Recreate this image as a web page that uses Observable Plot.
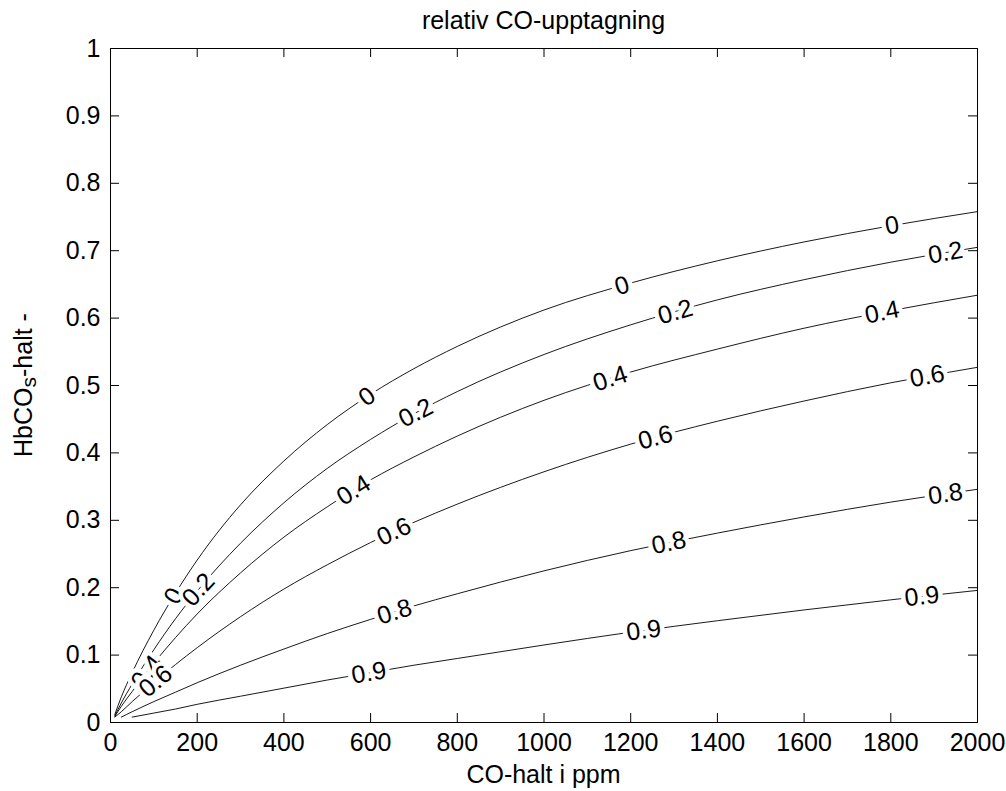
<!DOCTYPE html>
<html><head><meta charset="utf-8">
<script src="https://cdn.jsdelivr.net/npm/d3@7"></script>
<script src="https://cdn.jsdelivr.net/npm/@observablehq/plot@0.6"></script>
<style>body{margin:0;background:#fff} svg{display:block}</style>
</head><body><div id="chart"></div>
<script>
// CO concentration (ppm) sample positions
const coPpm = [10, 25, 50, 100, 150, 200, 300, 400, 500, 600, 700, 800, 1000, 1200, 1400, 1600, 1800, 2000];
// HbCO_s fraction along each contour level
const level0  = [0.012, 0.038, 0.074, 0.137, 0.192, 0.241, 0.323, 0.388, 0.442, 0.487, 0.525, 0.558, 0.612, 0.652, 0.685, 0.713, 0.737, 0.758];
const level02 = [0.010, 0.029, 0.057, 0.108, 0.154, 0.195, 0.266, 0.326, 0.377, 0.420, 0.458, 0.491, 0.546, 0.590, 0.627, 0.657, 0.683, 0.705];
const level04 = [0.009, 0.024, 0.046, 0.088, 0.126, 0.161, 0.222, 0.275, 0.320, 0.360, 0.394, 0.425, 0.478, 0.520, 0.554, 0.585, 0.611, 0.634];
const level06 = [0.008, 0.016, 0.031, 0.059, 0.086, 0.111, 0.157, 0.198, 0.234, 0.267, 0.297, 0.324, 0.372, 0.413, 0.447, 0.477, 0.504, 0.527];
const level08 = [null, 0.008, 0.016, 0.031, 0.045, 0.059, 0.085, 0.109, 0.132, 0.153, 0.173, 0.191, 0.225, 0.255, 0.281, 0.305, 0.327, 0.346];
const level09 = [null, null, 0.008, 0.014, 0.020, 0.027, 0.039, 0.051, 0.063, 0.074, 0.085, 0.095, 0.115, 0.134, 0.151, 0.167, 0.182, 0.196];
const levelNames = ["0", "0.2", "0.4", "0.6", "0.8", "0.9"];
// x positions (ppm) of the inline contour labels
const labels0  = [146, 592, 1180, 1803];
const labels02 = [203, 704, 1303, 1926];
const labels04 = [84, 561, 1153, 1780];
const labels06 = [104, 654, 1257, 1884];
const labels08 = [655, 1288, 1926];
const labels09 = [596, 1230, 1872];
// axis ticks
const xTicks = [0, 200, 400, 600, 800, 1000, 1200, 1400, 1600, 1800, 2000];
const yTicks = [0, 0.1, 0.2, 0.3, 0.4, 0.5, 0.6, 0.7, 0.8, 0.9, 1];

const titleText = "relativ CO-upptagning";
const xLabelText = "CO-halt i ppm";

const W = 1006, H = 791;
const mL = 110, mR = 29, mT = 48, mB = 69;
const iw = W - mL - mR, ih = H - mT - mB;
const FONT = "'Liberation Sans', Arial, Helvetica, sans-serif";

const series = [level0, level02, level04, level06, level08, level09];
const labelSets = [labels0, labels02, labels04, labels06, labels08, labels09];

const lineData = [];
series.forEach((ys, k) => ys.forEach((v, i) => {
  if (v != null) lineData.push({level: levelNames[k], x: coPpm[i], y: v});
}));

function segAt(ys, x) {
  for (let i = 0; i < coPpm.length - 1; i++) {
    if (ys[i] != null && ys[i + 1] != null && x >= coPpm[i] && x <= coPpm[i + 1]) return i;
  }
  return null;
}
const pxPerX = iw / 2000, pxPerY = ih / 1;
const labelData = [];
labelSets.forEach((xs, k) => xs.forEach(x => {
  const ys = series[k];
  const i = segAt(ys, x);
  if (i == null) return;
  const t = (x - coPpm[i]) / (coPpm[i + 1] - coPpm[i]);
  const y = ys[i] + t * (ys[i + 1] - ys[i]);
  const slope = (ys[i + 1] - ys[i]) / (coPpm[i + 1] - coPpm[i]);
  const angle = -Math.atan(slope * pxPerY / pxPerX) * 180 / Math.PI;
  labelData.push({x, y, angle, text: levelNames[k]});
}));

const plot = Plot.plot({
  width: W, height: H,
  marginLeft: mL, marginRight: mR, marginTop: mT, marginBottom: mB,
  style: {fontFamily: FONT, background: "white", color: "black"},
  x: {domain: [0, 2000]},
  y: {domain: [0, 1]},
  marks: [
    Plot.line(lineData, {x: "x", y: "y", z: "level", curve: "monotone-x", stroke: "black", strokeWidth: 0.9}),
    Plot.text(labelData, {x: "x", y: "y", text: "text", rotate: "angle", fontSize: 25, fill: "black",
      stroke: "white", strokeWidth: 9, strokeLinejoin: "round", paintOrder: "stroke", fontFamily: FONT}),
    Plot.tickX(xTicks, {x: d => d, insetTop: ih - 9, stroke: "black", strokeWidth: 1}),
    Plot.tickX(xTicks, {x: d => d, insetBottom: ih - 9, stroke: "black", strokeWidth: 1}),
    Plot.tickY(yTicks, {y: d => d, insetRight: iw - 9, stroke: "black", strokeWidth: 1}),
    Plot.tickY(yTicks, {y: d => d, insetLeft: iw - 9, stroke: "black", strokeWidth: 1}),
    Plot.axisX(xTicks, {anchor: "bottom", tickSize: 0, tickPadding: 11, fontSize: 25, tickFormat: d => String(d), label: null, fill: "black"}),
    Plot.axisY(yTicks, {anchor: "left", tickSize: 0, tickPadding: 10, fontSize: 25, tickFormat: d => String(d), label: null, fill: "black"}),
    Plot.frame({stroke: "black", strokeWidth: 1})
  ]
});

const svg = d3.select(plot);
svg.append("text").attr("x", mL + iw / 2).attr("y", 29).attr("text-anchor", "middle")
  .style("font-family", FONT).style("font-size", "25px").attr("fill", "black").text(titleText);
svg.append("text").attr("x", mL + iw / 2).attr("y", 783).attr("text-anchor", "middle")
  .style("font-family", FONT).style("font-size", "25px").attr("fill", "black").text(xLabelText);
const yl = svg.append("text").attr("transform", `translate(32,${mT + ih / 2}) rotate(-90)`)
  .attr("text-anchor", "middle").style("font-family", FONT).style("font-size", "25px").attr("fill", "black");
yl.append("tspan").text("HbCO");
yl.append("tspan").attr("dy", 4).style("font-size", "21px").text("s");
yl.append("tspan").attr("dy", -4).text("-halt -");

document.getElementById("chart").appendChild(plot);
</script>
</body></html>
